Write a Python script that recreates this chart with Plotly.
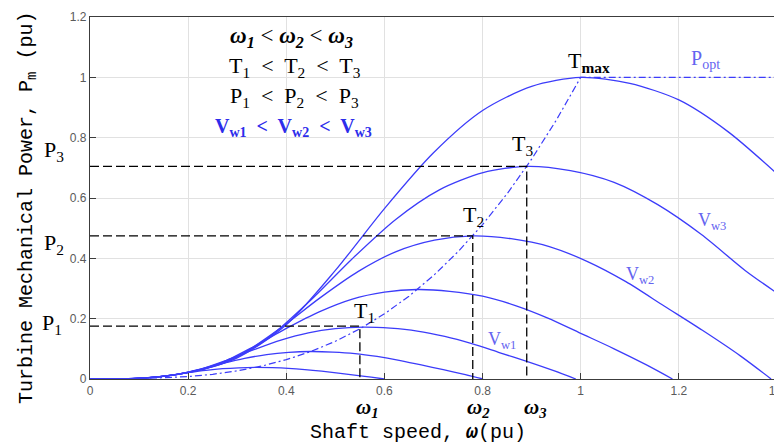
import plotly.graph_objects as go

# ---- data ----
# curve for the highest wind speed (peak at T_max)
c7_x = [0, 0.1, 0.2, 0.3, 0.4, 0.5, 0.6, 0.7, 0.8, 0.9, 1.0, 1.1, 1.2, 1.3, 1.4]
c7_y = [0, 0.002, 0.022, 0.07, 0.18, 0.36, 0.565, 0.75, 0.89, 0.97, 1.0, 0.98, 0.925, 0.82, 0.68]
# V_w3
c6_x = [0, 0.089, 0.178, 0.267, 0.356, 0.445, 0.534, 0.623, 0.712, 0.801, 0.89, 0.979, 1.068, 1.157, 1.246, 1.335, 1.4]
c6_y = [0, 0.0014, 0.0155, 0.049, 0.127, 0.254, 0.398, 0.529, 0.627, 0.684, 0.705, 0.691, 0.652, 0.578, 0.479, 0.36, 0.285]
# V_w2
c5_x = [0, 0.078, 0.156, 0.234, 0.312, 0.39, 0.468, 0.546, 0.624, 0.702, 0.78, 0.858, 0.936, 1.014, 1.092, 1.17, 1.248, 1.326, 1.388]
c5_y = [0, 0.001, 0.0104, 0.0332, 0.0854, 0.1709, 0.2681, 0.356, 0.4224, 0.4604, 0.4746, 0.4651, 0.439, 0.3892, 0.3227, 0.242, 0.1614, 0.0759, 0]
# intermediate curve
c4_x = [0, 0.0667, 0.133, 0.2, 0.267, 0.333, 0.4, 0.467, 0.533, 0.6, 0.667, 0.733, 0.8, 0.867, 0.933, 1.0, 1.067, 1.133, 1.187]
c4_y = [0, 0.0006, 0.0065, 0.0208, 0.0534, 0.1068, 0.1676, 0.2225, 0.2641, 0.2878, 0.2967, 0.2908, 0.2744, 0.2433, 0.2018, 0.1513, 0.1009, 0.0475, 0]
# V_w1
c3_x = [0, 0.0556, 0.111, 0.167, 0.222, 0.278, 0.334, 0.389, 0.445, 0.5, 0.556, 0.612, 0.667, 0.723, 0.778, 0.834, 0.89, 0.945, 0.99]
c3_y = [0, 0.0003, 0.0038, 0.012, 0.0309, 0.0619, 0.0971, 0.1289, 0.153, 0.1667, 0.1719, 0.1685, 0.159, 0.141, 0.1169, 0.0877, 0.0584, 0.0275, 0]
# low curves
c2_x = [0, 0.045, 0.09, 0.135, 0.18, 0.225, 0.27, 0.315, 0.36, 0.405, 0.45, 0.495, 0.54, 0.585, 0.63, 0.675, 0.72, 0.765, 0.801]
c2_y = [0, 0.0002, 0.002, 0.0064, 0.0164, 0.0328, 0.0515, 0.0683, 0.0811, 0.0884, 0.0911, 0.0893, 0.0843, 0.0747, 0.0619, 0.0465, 0.031, 0.0146, 0]
c1_x = [0, 0.0337, 0.0674, 0.101, 0.135, 0.169, 0.202, 0.236, 0.27, 0.303, 0.337, 0.371, 0.404, 0.438, 0.472, 0.506, 0.539, 0.573, 0.6]
c1_y = [0, 0.0001, 0.0008, 0.0027, 0.0069, 0.0138, 0.0216, 0.0287, 0.0341, 0.0372, 0.0383, 0.0375, 0.0354, 0.0314, 0.026, 0.0195, 0.013, 0.0061, 0]

# optimal power locus (dash-dot)
popt_x = [0, 0.1, 0.2, 0.25, 0.3, 0.35, 0.4, 0.45, 0.5, 0.55, 0.6, 0.65, 0.7, 0.75, 0.8, 0.85, 0.9, 0.95, 1.0, 1.4]
popt_y = [0, 0.001, 0.008, 0.0156, 0.027, 0.0429, 0.064, 0.0911, 0.125, 0.1664, 0.216, 0.2746, 0.343, 0.4219, 0.512, 0.6141, 0.729, 0.8574, 1.0, 1.0]

# operating points T1, T2, T3
op_w = [0.55, 0.78, 0.89]
op_p = [0.175, 0.4746, 0.705]

x_ticks = [0, 0.2, 0.4, 0.6, 0.8, 1.0, 1.2, 1.4]
x_tick_text = ["0", "0.2", "0.4", "0.6", "0.8", "1", "1.2", "1.4"]
y_ticks = [0, 0.2, 0.4, 0.6, 0.8, 1.0, 1.2]
y_tick_text = ["0", "0.2", "0.4", "0.6", "0.8", "1", "1.2"]

BLUE = "rgb(60,60,250)"
LBLUE = "rgb(100,100,240)"

fig = go.Figure()

for cx, cy in [(c1_x, c1_y), (c2_x, c2_y), (c3_x, c3_y), (c4_x, c4_y),
               (c5_x, c5_y), (c6_x, c6_y), (c7_x, c7_y)]:
    fig.add_trace(go.Scatter(x=cx, y=cy, mode="lines",
                             line=dict(color=BLUE, width=1.3, shape="spline", smoothing=0.8),
                             showlegend=False, hoverinfo="skip"))

fig.add_trace(go.Scatter(x=popt_x, y=popt_y, mode="lines",
                         line=dict(color=BLUE, width=1.2, dash="7px,3px,2px,3px"),
                         showlegend=False, hoverinfo="skip"))

# dashed guide lines
for w, p in zip(op_w, op_p):
    fig.add_trace(go.Scatter(x=[0, w, w], y=[p, p, -0.012], mode="lines",
                             line=dict(color="black", width=1.3, dash="9px,4px"),
                             showlegend=False, hoverinfo="skip", cliponaxis=False))

SERIF = "Liberation Serif"
MONO = "Liberation Mono"
ann = []

# page-pixel positions of the plot area in the reference
X0, X1, Y0, Y1 = 90.0, 777.0, 379.0, 17.0

def add(px, py, text, size=20, color="black", family=SERIF, angle=0):
    ann.append(dict(x=(px - X0) / (X1 - X0), y=(Y0 - py) / (Y0 - Y1),
                    xref="paper", yref="paper", text=text, showarrow=False,
                    font=dict(family=family, size=size, color=color),
                    textangle=angle, xanchor="center", yanchor="middle"))

W = "<b><i>ω</i></b>"
def wsub(n):
    return W + "<sub><b><i>%s</i></b></sub>" % n

# top-left inequality block
add(291, 37, wsub(1) + " &lt; " + wsub(2) + " &lt; " + wsub(3), size=23)
add(295, 67, "T<sub>1</sub>  &lt;  T<sub>2</sub>  &lt;  T<sub>3</sub>", size=22)
add(294, 97, "P<sub>1</sub>  &lt;  P<sub>2</sub>  &lt;  P<sub>3</sub>", size=22)
add(293, 127, "<b>V<sub>w1</sub>  &lt;  V<sub>w2</sub>  &lt;  V<sub>w3</sub></b>", size=20, color="rgb(45,45,235)")

# T labels
add(364, 312, "T<sub>1</sub>", size=22)
add(473, 216, "T<sub>2</sub>", size=22)
add(522, 145, "T<sub>3</sub>", size=22)
add(589, 62, "T<sub><b>max</b></sub>", size=22)
add(705, 60, "P<sub>opt</sub>", size=20, color=LBLUE)

# V labels
add(712, 221, "V<sub>w3</sub>", size=18, color=LBLUE)
add(640, 275, "V<sub>w2</sub>", size=18, color=LBLUE)
add(502, 340, "V<sub>w1</sub>", size=18, color=LBLUE)

# P labels on left
add(54, 151, "P<sub>3</sub>", size=22)
add(54, 244, "P<sub>2</sub>", size=22)
add(52, 324, "P<sub>1</sub>", size=22)

# omega labels below axis
add(367, 408, wsub(1), size=21)
add(478, 408, wsub(2), size=21)
add(535, 408, wsub(3), size=21)

# axis titles
add(418, 432, "Shaft speed, " + W + "(pu)", size=20, family=MONO)
add(27, 208, "Turbine Mechanical Power, P<sub>m</sub> (pu)", size=20, family=MONO, angle=-90)

# the page has an 8px body margin, so the figure is shifted by 8px
OFF = 8
FW, FH = 782 - OFF, 443 - OFF
axis_common = dict(showgrid=True, gridcolor="rgb(225,225,225)", gridwidth=1,
                   zeroline=False, showline=True, linecolor="rgb(60,60,60)", linewidth=1.2,
                   mirror=True, ticks="inside", ticklen=6, tickcolor="rgb(60,60,60)",
                   ticklabeloverflow="allow", automargin=False,
                   tickfont=dict(family="Liberation Sans", size=12, color="rgb(90,90,90)"))
fig.update_layout(
    width=FW, height=FH,
    margin=dict(l=X0 - OFF, r=FW - (X1 - OFF), t=Y1 - OFF, b=FH - (Y0 - OFF), autoexpand=False),
    paper_bgcolor="white", plot_bgcolor="white",
    annotations=ann,
    xaxis=dict(range=[0, 1.4], tickvals=x_ticks, ticktext=x_tick_text, **axis_common),
    yaxis=dict(range=[0, 1.2], tickvals=y_ticks, ticktext=y_tick_text, **axis_common),
)

fig.write_html("out.html")
